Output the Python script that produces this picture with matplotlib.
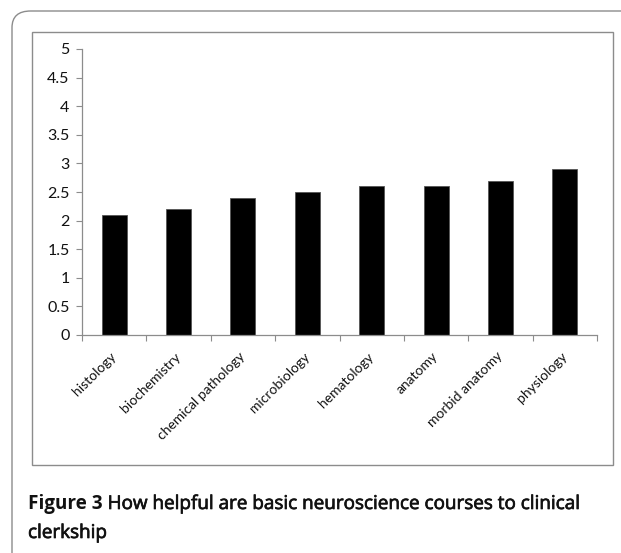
import matplotlib.pyplot as plt
import matplotlib.patheffects as pe
from matplotlib.patches import FancyBboxPatch, Rectangle
import numpy as np

courses = ['histology', 'biochemistry', 'chemical pathology', 'microbiology',
           'hematology', 'anatomy', 'morbid anatomy', 'physiology']
scores = [2.1, 2.2, 2.4, 2.5, 2.6, 2.6, 2.7, 2.9]
yticks = [0, 0.5, 1, 1.5, 2, 2.5, 3, 3.5, 4, 4.5, 5]
ytick_labels = ['0', '0.5', '1', '1.5', '2', '2.5', '3', '3.5', '4', '4.5', '5']

W, H = 621, 553
fig = plt.figure(figsize=(W / 100, H / 100), dpi=100)

def fx(px):
    return px / W

def fy(py):
    return 1 - py / H

# outer rounded frame (runs off the right and bottom edges)
outer = FancyBboxPatch((fx(12), fy(600)), fx(700), fy(11) - fy(600),
                       boxstyle='round,pad=0,rounding_size=0.03',
                       transform=fig.transFigure, fill=False,
                       edgecolor='#8c8c8c', linewidth=1.0)
fig.patches.append(outer)

# inner chart frame
inner = Rectangle((fx(32), fy(465)), fx(613) - fx(32), fy(32) - fy(465),
                  transform=fig.transFigure, fill=False,
                  edgecolor='#8c8c8c', linewidth=1.0)
fig.patches.append(inner)

ax = fig.add_axes([fx(82), fy(335), fx(597) - fx(82), fy(49) - fy(335)])
x = np.arange(len(courses))
ax.bar(x, scores, width=0.39, color='black', edgecolor='#555555', linewidth=0.6)

ax.set_xlim(-0.5, len(courses) - 0.5)
ax.set_ylim(0, 5)
ax.set_yticks(yticks)
ax.set_yticklabels(ytick_labels, fontfamily='Lato', fontsize=11.5, color='#111111')
ax.set_xticks(x)
ax.set_xticklabels(courses, rotation=45, ha='right', va='center',
                   rotation_mode='anchor', fontfamily='Lato', fontsize=10,
                   color='#111111')
ax.set_xticks(np.arange(-0.5, len(courses)), minor=True)
ax.tick_params(axis='x', which='major', length=0, pad=14)
ax.tick_params(axis='x', which='minor', length=4, color='#8c8c8c', width=0.8)
ax.tick_params(axis='y', length=4, color='#8c8c8c', width=0.8, pad=5)

for side in ['top', 'right']:
    ax.spines[side].set_visible(False)
for side in ['left', 'bottom']:
    ax.spines[side].set_color('#8c8c8c')
    ax.spines[side].set_linewidth(0.9)

# caption: bold label followed by slightly heavier regular text
cap_font = 'Open Sans'
cap_size = 13.6
heavy = [pe.withStroke(linewidth=0.5, foreground='#111111')]
t1 = fig.text(fx(28), fy(509), 'Figure 3', fontfamily=cap_font,
              fontweight='bold', fontsize=cap_size, color='#111111', va='baseline')
fig.canvas.draw()
bb = t1.get_window_extent()
fig.text(bb.x1 / W + fx(5), fy(509), 'How helpful are basic neuroscience courses to clinical',
         fontfamily=cap_font, fontsize=cap_size, color='#111111', va='baseline',
         path_effects=heavy)
fig.text(fx(28), fy(538), 'clerkship', fontfamily=cap_font, fontsize=cap_size,
         color='#111111', va='baseline', path_effects=heavy)

fig.savefig('out.png', dpi=100)
